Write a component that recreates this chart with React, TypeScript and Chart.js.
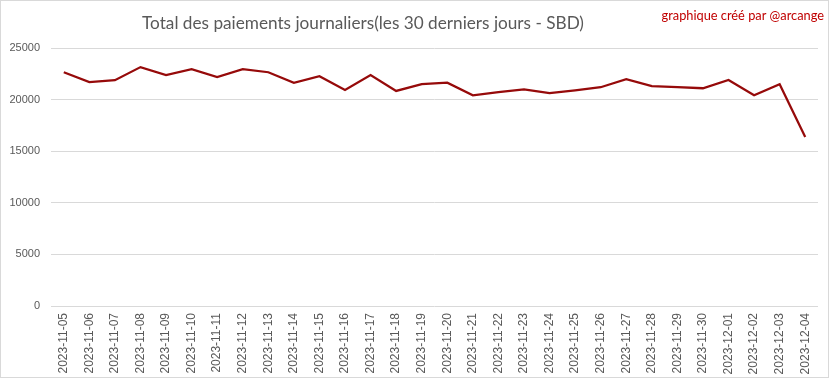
import React, { useEffect, useRef } from "react";
import { Chart, registerables } from "chart.js";

Chart.register(...registerables);

const TITLE = "Total des paiements journaliers(les 30 derniers jours - SBD)";
const CREDIT = "graphique créé par @arcange";

const dates = [
  "2023-11-05", "2023-11-06", "2023-11-07", "2023-11-08", "2023-11-09",
  "2023-11-10", "2023-11-11", "2023-11-12", "2023-11-13", "2023-11-14",
  "2023-11-15", "2023-11-16", "2023-11-17", "2023-11-18", "2023-11-19",
  "2023-11-20", "2023-11-21", "2023-11-22", "2023-11-23", "2023-11-24",
  "2023-11-25", "2023-11-26", "2023-11-27", "2023-11-28", "2023-11-29",
  "2023-11-30", "2023-12-01", "2023-12-02", "2023-12-03", "2023-12-04",
];

const payments = [
  22650, 21700, 21880, 23150, 22380,
  22950, 22180, 22950, 22650, 21620,
  22270, 20940, 22380, 20840, 21500,
  21640, 20420, 20720, 21000, 20620,
  20900, 21200, 21980, 21300, 21200,
  21100, 21900, 20420, 21480, 16380,
];

const yTicks = [0, 5000, 10000, 15000, 20000, 25000];

const textPlugin = {
  id: "textPlugin",
  afterDraw(chart: any) {
    const ctx = chart.ctx;
    ctx.save();
    ctx.textBaseline = "middle";
    ctx.textAlign = "center";
    ctx.fillStyle = "#595959";
    ctx.font = "17.2px Lato";
    ctx.fillText(TITLE, 363, 23);
    ctx.textAlign = "right";
    ctx.fillStyle = "#c00000";
    ctx.font = "12.8px Lato";
    ctx.fillText(CREDIT, 824, 16);
    ctx.restore();
  },
};

export default function App() {
  const ref = useRef<HTMLCanvasElement | null>(null);
  useEffect(() => {
    document.body.style.margin = "0";
    const chart = new Chart(ref.current as HTMLCanvasElement, {
      type: "line",
      data: {
        labels: dates,
        datasets: [
          {
            data: payments,
            borderColor: "#960a0a",
            borderWidth: 2.25,
            pointRadius: 0,
            tension: 0,
            fill: false,
          },
        ],
      },
      options: {
        animation: false,
        responsive: false,
        maintainAspectRatio: false,
        layout: { padding: { top: 48, right: 15, left: 0, bottom: 0 } },
        plugins: {
          legend: { display: false },
          title: { display: false },
          tooltip: { enabled: false },
        },
        scales: {
          x: {
            offset: true,
            grid: { display: false, drawTicks: false },
            border: { display: false },
            ticks: {
              autoSkip: false,
              minRotation: 90,
              maxRotation: 90,
              padding: 7,
              color: "#595959",
              font: { family: "Liberation Sans", size: 12 },
            },
            afterFit: (s: any) => {
              s.height = 73;
            },
          },
          y: {
            min: 0,
            max: 25000,
            afterBuildTicks: (s: any) => {
              s.ticks = yTicks.map((v) => ({ value: v }));
            },
            grid: { color: "#d9d9d9", lineWidth: 1, drawTicks: false },
            border: { display: false },
            ticks: {
              padding: 11,
              color: "#595959",
              font: { family: "Liberation Sans", size: 11 },
              callback: (v: any) => String(v),
            },
            afterFit: (s: any) => {
              s.width = 51;
            },
          },
        },
      },
      plugins: [textPlugin],
    });
    return () => chart.destroy();
  }, []);
  return (
    <div style={{ position: "relative", width: 833, height: 379, background: "#fff" }}>
      <canvas ref={ref} width={833} height={379} style={{ position: "absolute", left: 0, top: 0 }} />
      <div
        style={{
          position: "absolute",
          left: 0,
          top: 0,
          width: 827,
          height: 376,
          border: "1px solid #d9d9d9",
          pointerEvents: "none",
        }}
      />
    </div>
  );
}
